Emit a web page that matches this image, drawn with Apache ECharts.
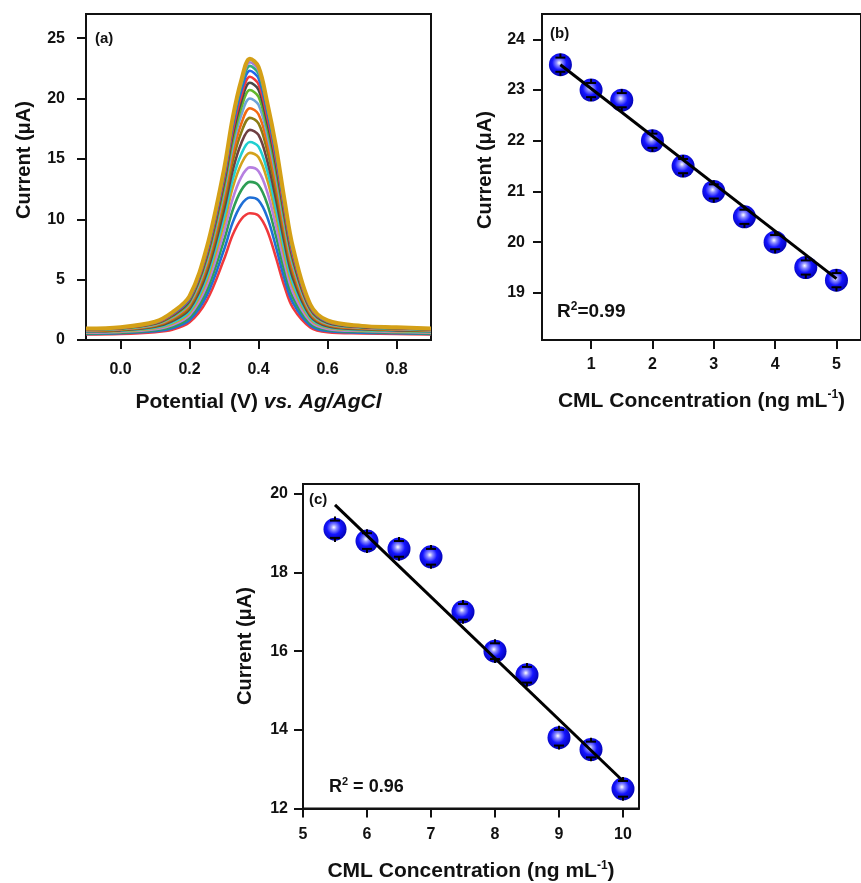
<!DOCTYPE html>
<html>
<head>
<meta charset="utf-8">
<script src="https://cdn.jsdelivr.net/npm/echarts@6/dist/echarts.min.js"></script>
<style>
  html, body { margin: 0; padding: 0; background: #fff; }
  #chart { width: 861px; height: 883px; }
</style>
</head>
<body>
<div id="chart"></div>
<script>
// ---- (a) DPV responses: potential grid and one current trace per concentration ----
const potential = [-0.1, 0.0, 0.1, 0.15, 0.2, 0.25, 0.3, 0.325, 0.35, 0.375, 0.4, 0.425, 0.45, 0.475, 0.5, 0.55, 0.6, 0.7, 0.8, 0.9];

const dpvCurrents = [
  [0.45, 0.50, 0.65, 0.85, 1.46, 3.26, 6.68, 8.69, 10.0, 10.5, 10.3, 9.09, 6.88, 4.47, 2.66, 1.05, 0.65, 0.55, 0.50, 0.45],
  [0.50, 0.56, 0.73, 0.97, 1.65, 3.69, 7.47, 9.72, 11.2, 11.8, 11.56, 10.2, 7.78, 5.11, 3.08, 1.21, 0.74, 0.61, 0.56, 0.50],
  [0.55, 0.61, 0.81, 1.10, 1.86, 4.11, 8.26, 10.74, 12.4, 13.1, 12.82, 11.29, 8.68, 5.77, 3.51, 1.38, 0.83, 0.68, 0.61, 0.55],
  [0.60, 0.67, 0.89, 1.23, 2.05, 4.52, 8.97, 11.67, 13.49, 14.3, 13.98, 12.3, 9.53, 6.41, 3.94, 1.55, 0.92, 0.74, 0.67, 0.60],
  [0.65, 0.72, 0.98, 1.36, 2.25, 4.93, 9.68, 12.59, 14.58, 15.5, 15.14, 13.3, 10.39, 7.05, 4.38, 1.72, 1.01, 0.80, 0.72, 0.65],
  [0.68, 0.76, 1.03, 1.45, 2.39, 5.22, 10.21, 13.29, 15.39, 16.4, 16.01, 14.06, 11.02, 7.55, 4.72, 1.84, 1.07, 0.84, 0.76, 0.68],
  [0.72, 0.80, 1.10, 1.57, 2.57, 5.57, 10.79, 14.03, 16.3, 17.4, 16.98, 14.88, 11.76, 8.11, 5.11, 1.99, 1.14, 0.89, 0.80, 0.72],
  [0.76, 0.85, 1.17, 1.68, 2.74, 5.91, 11.36, 14.78, 17.18, 18.4, 17.94, 15.72, 12.49, 8.70, 5.52, 2.15, 1.22, 0.94, 0.85, 0.76],
  [0.79, 0.88, 1.22, 1.78, 2.89, 6.20, 11.84, 15.39, 17.91, 19.2, 18.7, 16.36, 13.07, 9.15, 5.83, 2.26, 1.29, 0.97, 0.88, 0.79],
  [0.82, 0.92, 1.27, 1.87, 3.03, 6.48, 12.29, 15.97, 18.62, 20.0, 19.48, 17.03, 13.67, 9.62, 6.17, 2.39, 1.34, 1.01, 0.92, 0.82],
  [0.85, 0.95, 1.33, 1.96, 3.15, 6.73, 12.68, 16.49, 19.23, 20.7, 20.14, 17.6, 14.19, 10.06, 6.49, 2.52, 1.41, 1.05, 0.95, 0.85],
  [0.87, 0.97, 1.36, 2.03, 3.26, 6.94, 13.03, 16.93, 19.77, 21.3, 20.73, 18.09, 14.64, 10.41, 6.73, 2.61, 1.44, 1.07, 0.97, 0.87],
  [0.89, 0.99, 1.40, 2.10, 3.36, 7.12, 13.31, 17.30, 20.21, 21.8, 21.19, 18.5, 15.0, 10.72, 6.95, 2.69, 1.50, 1.10, 0.99, 0.89],
  [0.91, 1.02, 1.44, 2.15, 3.43, 7.28, 13.57, 17.66, 20.63, 22.3, 21.68, 18.92, 15.39, 11.05, 7.20, 2.79, 1.53, 1.12, 1.02, 0.91],
  [0.93, 1.04, 1.47, 2.21, 3.52, 7.44, 13.82, 17.95, 21.0, 22.7, 22.05, 19.24, 15.69, 11.29, 7.37, 2.87, 1.58, 1.15, 1.04, 0.93],
  [0.94, 1.05, 1.49, 2.26, 3.59, 7.56, 13.98, 18.17, 21.26, 23.0, 22.34, 19.47, 15.92, 11.48, 7.51, 2.90, 1.60, 1.16, 1.05, 0.94],
  [0.95, 1.06, 1.51, 2.29, 3.63, 7.66, 14.14, 18.38, 21.51, 23.3, 22.63, 19.72, 16.15, 11.68, 7.66, 2.96, 1.62, 1.17, 1.06, 0.95]
];

const traceColors = ['#f0393c', '#1f6fd6', '#2e9e55', '#b67fe0', '#d3a21c', '#21cfd0', '#6e3f42', '#8b7d14',
                     '#f26a12', '#6fa3d8', '#62b82c', '#484848', '#f03a3a', '#2266ee', '#2fae7a', '#9d7be0', '#d4a017'];

const ticksAx = [0.0, 0.2, 0.4, 0.6, 0.8];
const ticksAy = [0, 5, 10, 15, 20, 25];

// ---- (b) calibration, low range ----
const concB = [0.5, 1, 1.5, 2, 2.5, 3, 3.5, 4, 4.5, 5];
const currentB = [23.5, 23.0, 22.8, 22.0, 21.5, 21.0, 20.5, 20.0, 19.5, 19.25];
const errB = [0.14, 0.14, 0.14, 0.14, 0.14, 0.14, 0.14, 0.14, 0.14, 0.14];
const fitB = [[0.5, 23.5], [5.0, 19.28]];
const ticksBx = [1, 2, 3, 4, 5];
const ticksBy = [19, 20, 21, 22, 23, 24];

// ---- (c) calibration, high range ----
const concC = [5.5, 6, 6.5, 7, 7.5, 8, 8.5, 9, 9.5, 10];
const currentC = [19.1, 18.8, 18.6, 18.4, 17.0, 16.0, 15.4, 13.8, 13.5, 12.5];
const errC = [0.22, 0.2, 0.2, 0.2, 0.2, 0.2, 0.2, 0.2, 0.2, 0.2];
const fitC = [[5.5, 19.72], [10.0, 12.7]];
const ticksCx = [5, 6, 7, 8, 9, 10];
const ticksCy = [12, 14, 16, 18, 20];

const FONT = '"Liberation Sans", Arial, Helvetica, sans-serif';
const INK = '#111';

function valueAxis(opts) {
  return Object.assign({
    type: 'value',
    scale: true,
    splitLine: { show: false },
    axisLine: { show: true, onZero: false, lineStyle: { color: INK, width: 2 } },
    axisTick: { show: true, inside: false, length: 9, lineStyle: { color: INK, width: 2 }, customValues: opts.ticks },
    axisLabel: { customValues: opts.ticks, color: INK, fontFamily: FONT, fontWeight: 'bold', fontSize: 16, margin: opts.margin,
                 formatter: opts.fmt },
    nameLocation: 'middle',
    nameTextStyle: { color: INK, fontFamily: FONT, fontWeight: 'bold', fontSize: 21 }
  }, opts.extra);
}

const sphere = {
  type: 'radial', x: 0.45, y: 0.42, r: 0.62,
  colorStops: [
    { offset: 0, color: '#ffffff' },
    { offset: 0.2, color: '#8c8cff' },
    { offset: 0.5, color: '#1414ff' },
    { offset: 1, color: '#0000a8' }
  ]
};

function errorBar(params, api) {
  const x = api.value(0), y = api.value(1), e = api.value(2);
  const top = api.coord([x, y + e]);
  const bot = api.coord([x, y - e]);
  const hw = 5, stub = 4;
  const st = { stroke: '#000', lineWidth: 2 };
  return {
    type: 'group',
    children: [
      { type: 'line', shape: { x1: top[0] - hw, y1: top[1], x2: top[0] + hw, y2: top[1] }, style: st },
      { type: 'line', shape: { x1: top[0], y1: top[1] - stub, x2: top[0], y2: top[1] }, style: st },
      { type: 'line', shape: { x1: bot[0] - hw, y1: bot[1], x2: bot[0] + hw, y2: bot[1] }, style: st },
      { type: 'line', shape: { x1: bot[0], y1: bot[1], x2: bot[0], y2: bot[1] + stub }, style: st }
    ]
  };
}

const richName = {
  n: { fontFamily: FONT, fontWeight: 'bold', fontSize: 21, color: INK, lineHeight: 24 },
  i: { fontFamily: FONT, fontWeight: 'bold', fontStyle: 'italic', fontSize: 21, color: INK, lineHeight: 24 },
  s: { fontFamily: FONT, fontWeight: 'bold', fontSize: 12, color: INK, verticalAlign: 'top', lineHeight: 24 }
};

const series = [];
dpvCurrents.forEach((trace, k) => {
  series.push({
    type: 'line',
    xAxisIndex: 0, yAxisIndex: 0,
    data: potential.map((v, j) => [v, trace[j]]),
    smooth: 0.35,
    showSymbol: false,
    lineStyle: { color: traceColors[k], width: k === dpvCurrents.length - 1 ? 4 : 2.6 },
    z: 2 + k
  });
});

series.push(
  { type: 'line', xAxisIndex: 1, yAxisIndex: 1, data: fitB, showSymbol: false, lineStyle: { color: '#000', width: 3 }, z: 5 },
  { type: 'scatter', xAxisIndex: 1, yAxisIndex: 1, data: concB.map((c, i) => [c, currentB[i]]),
    symbolSize: 23, itemStyle: { color: sphere, opacity: 1 }, z: 4 },
  { type: 'custom', xAxisIndex: 1, yAxisIndex: 1, data: concB.map((c, i) => [c, currentB[i], errB[i]]),
    encode: { x: 0, y: 1 }, renderItem: errorBar, z: 6 },
  { type: 'line', xAxisIndex: 2, yAxisIndex: 2, data: fitC, showSymbol: false, lineStyle: { color: '#000', width: 3 }, z: 5 },
  { type: 'scatter', xAxisIndex: 2, yAxisIndex: 2, data: concC.map((c, i) => [c, currentC[i]]),
    symbolSize: 23, itemStyle: { color: sphere, opacity: 1 }, z: 4 },
  { type: 'custom', xAxisIndex: 2, yAxisIndex: 2, data: concC.map((c, i) => [c, currentC[i], errC[i]]),
    encode: { x: 0, y: 1 }, renderItem: errorBar, z: 6 }
);

const gridStyle = { show: true, borderColor: INK, borderWidth: 2, backgroundColor: '#fff' };

// rotated y-axis titles
function yTitle(x, y) {
  return { type: 'text', x: x, y: y, rotation: Math.PI / 2,
           style: { text: 'Current (\u03bcA)', font: 'bold 20px ' + FONT, fill: INK, align: 'center', verticalAlign: 'middle' } };
}

const option = {
  animation: false,
  backgroundColor: '#fff',
  grid: [
    Object.assign({ left: 86, top: 14, width: 345, height: 326 }, gridStyle),
    Object.assign({ left: 542, top: 14, width: 330, height: 326 }, gridStyle),
    Object.assign({ left: 303, top: 484, width: 336, height: 325 }, gridStyle)
  ],
  xAxis: [
    valueAxis({ ticks: ticksAx, margin: 22, fmt: v => v.toFixed(1),
      extra: { gridIndex: 0, min: -0.1, max: 0.9, name: '{n|Potential (V) }{i|vs. Ag/AgCl}', nameGap: 50,
               nameTextStyle: { rich: richName } } }),
    valueAxis({ ticks: ticksBx, margin: 17, fmt: v => String(v),
      extra: { gridIndex: 1, min: 0.2, max: 5.4, name: '{n|CML Concentration (ng mL}{s|-1}{n|)}', nameGap: 49,
               nameTextStyle: { rich: richName } } }),
    valueAxis({ ticks: ticksCx, margin: 18, fmt: v => String(v),
      extra: { gridIndex: 2, min: 5, max: 10.25, name: '{n|CML Concentration (ng mL}{s|-1}{n|)}', nameGap: 51,
               nameTextStyle: { rich: richName } } })
  ],
  yAxis: [
    valueAxis({ ticks: ticksAy, margin: 21, fmt: v => String(v), extra: { gridIndex: 0, min: 0, max: 27 } }),
    valueAxis({ ticks: ticksBy, margin: 17, fmt: v => String(v), extra: { gridIndex: 1, min: 18.07, max: 24.5 } }),
    valueAxis({ ticks: ticksCy, margin: 15, fmt: v => String(v), extra: { gridIndex: 2, min: 12, max: 20.25 } })
  ],
  graphic: [
    yTitle(24, 160),
    yTitle(485, 170),
    yTitle(245, 646),
    { type: 'text', left: 95, top: 31, style: { text: '(a)', font: 'bold 15px ' + FONT, fill: INK } },
    { type: 'text', left: 550, top: 26, style: { text: '(b)', font: 'bold 15px ' + FONT, fill: INK } },
    { type: 'text', left: 309, top: 492, style: { text: '(c)', font: 'bold 15px ' + FONT, fill: INK } },
    { type: 'text', left: 557, top: 301, style: {
        text: '{n|R}{s|2}{n|=0.99}',
        rich: { n: { font: 'bold 19px ' + FONT, fill: INK, lineHeight: 22 },
                s: { font: 'bold 12px ' + FONT, fill: INK, verticalAlign: 'top', lineHeight: 22 } } } },
    { type: 'text', left: 329, top: 776, style: {
        text: '{n|R}{s|2}{n| = 0.96}',
        rich: { n: { font: 'bold 18px ' + FONT, fill: INK, lineHeight: 22 },
                s: { font: 'bold 11px ' + FONT, fill: INK, verticalAlign: 'top', lineHeight: 22 } } } }
  ],
  series: series
};

const chart = echarts.init(document.getElementById('chart'), null, { renderer: 'canvas' });
chart.setOption(option);
</script>
</body>
</html>
